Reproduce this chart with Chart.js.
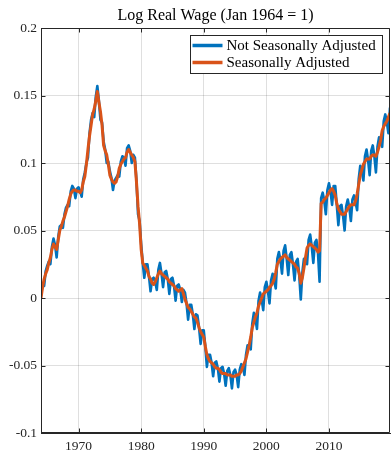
<!DOCTYPE html>
<html>
<head>
<meta charset="utf-8">
<script src="https://cdn.jsdelivr.net/npm/chart.js@4.4.1/dist/chart.umd.min.js"></script>
<style>
  html, body { margin: 0; padding: 0; background: #fff; }
  #wrap { width: 391px; height: 452px; position: relative; }
</style>
</head>
<body>
<div id="wrap"><canvas id="wageChart"></canvas></div>
<script>
// quarterly observations, first one is Jan 1964
var startYear = 1964;
var perYear = 4;

// not seasonally adjusted, one row per year (Q1..Q4)
var nsa = [
	0.002, 0.010, 0.009, 0.020,
	0.024, 0.027, 0.025, 0.038,
	0.044, 0.039, 0.030, 0.045,
	0.053, 0.054, 0.052, 0.062,
	0.067, 0.069, 0.068, 0.079,
	0.083, 0.081, 0.074, 0.081,
	0.082, 0.079, 0.075, 0.088,
	0.093, 0.100, 0.104, 0.122,
	0.132, 0.137, 0.134, 0.149,
	0.157, 0.146, 0.132, 0.130,
	0.116, 0.110, 0.100, 0.101,
	0.094, 0.089, 0.080, 0.087,
	0.089, 0.091, 0.090, 0.101,
	0.105, 0.104, 0.098, 0.111,
	0.113, 0.109, 0.100, 0.106,
	0.104, 0.087, 0.062, 0.057,
	0.040, 0.026, 0.015, 0.025,
	0.025, 0.016, 0.005, 0.014,
	0.015, 0.012, 0.006, 0.021,
	0.026, 0.018, 0.008, 0.019,
	0.020, 0.014, 0.003, 0.014,
	0.015, 0.009, -0.002, 0.009,
	0.010, 0.006, -0.003, 0.006,
	0.004, -0.004, -0.016, -0.005,
	-0.005, -0.012, -0.023, -0.012,
	-0.013, -0.022, -0.034, -0.024,
	-0.024, -0.036, -0.051, -0.042,
	-0.042, -0.048, -0.058, -0.048,
	-0.047, -0.052, -0.062, -0.052,
	-0.051, -0.056, -0.065, -0.054,
	-0.052, -0.057, -0.067, -0.055,
	-0.053, -0.057, -0.066, -0.053,
	-0.049, -0.051, -0.057, -0.042,
	-0.035, -0.035, -0.038, -0.019,
	-0.011, -0.015, -0.023, -0.002,
	0.004, -0.001, -0.009, 0.008,
	0.012, 0.005, -0.004, 0.013,
	0.018, 0.013, 0.007, 0.029,
	0.034, 0.028, 0.018, 0.035,
	0.039, 0.029, 0.017, 0.032,
	0.034, 0.025, 0.013, 0.027,
	0.029, 0.017, -0.001, 0.019,
	0.029, 0.029, 0.025, 0.043,
	0.047, 0.038, 0.026, 0.041,
	0.043, 0.033, 0.012, 0.074,
	0.078, 0.072, 0.062, 0.080,
	0.085, 0.079, 0.069, 0.083,
	0.083, 0.069, 0.054, 0.068,
	0.069, 0.061, 0.050, 0.068,
	0.073, 0.067, 0.057, 0.073,
	0.076, 0.071, 0.065, 0.088,
	0.098, 0.094, 0.087, 0.105,
	0.110, 0.102, 0.091, 0.109,
	0.113, 0.105, 0.093, 0.112,
	0.119, 0.116, 0.112, 0.131,
	0.136, 0.130, 0.122, 0.141
];

// seasonally adjusted
var sa = [
	0.000, 0.008, 0.014, 0.018,
	0.021, 0.026, 0.030, 0.036,
	0.040, 0.038, 0.036, 0.043,
	0.050, 0.053, 0.057, 0.060,
	0.064, 0.068, 0.073, 0.077,
	0.079, 0.080, 0.080, 0.079,
	0.079, 0.078, 0.080, 0.086,
	0.090, 0.099, 0.110, 0.120,
	0.128, 0.136, 0.140, 0.146,
	0.153, 0.145, 0.138, 0.128,
	0.113, 0.109, 0.106, 0.099,
	0.091, 0.088, 0.086, 0.085,
	0.086, 0.090, 0.096, 0.099,
	0.101, 0.103, 0.104, 0.108,
	0.110, 0.108, 0.106, 0.104,
	0.101, 0.086, 0.068, 0.055,
	0.036, 0.026, 0.024, 0.022,
	0.020, 0.016, 0.014, 0.011,
	0.010, 0.012, 0.015, 0.018,
	0.020, 0.018, 0.017, 0.016,
	0.015, 0.014, 0.012, 0.011,
	0.010, 0.009, 0.007, 0.006,
	0.005, 0.006, 0.007, 0.003,
	-0.001, -0.004, -0.007, -0.008,
	-0.010, -0.012, -0.014, -0.015,
	-0.018, -0.022, -0.025, -0.027,
	-0.029, -0.036, -0.042, -0.045,
	-0.047, -0.048, -0.049, -0.051,
	-0.052, -0.052, -0.053, -0.055,
	-0.056, -0.056, -0.056, -0.057,
	-0.057, -0.057, -0.058, -0.058,
	-0.058, -0.057, -0.057, -0.056,
	-0.054, -0.051, -0.048, -0.045,
	-0.040, -0.035, -0.029, -0.022,
	-0.018, -0.014, -0.011, -0.006,
	-0.003, 0.000, 0.003, 0.004,
	0.005, 0.006, 0.008, 0.009,
	0.011, 0.014, 0.019, 0.025,
	0.027, 0.029, 0.030, 0.031,
	0.032, 0.030, 0.029, 0.028,
	0.027, 0.026, 0.025, 0.023,
	0.022, 0.018, 0.011, 0.015,
	0.022, 0.030, 0.037, 0.039,
	0.040, 0.039, 0.038, 0.037,
	0.036, 0.034, 0.035, 0.070,
	0.071, 0.073, 0.074, 0.076,
	0.078, 0.080, 0.081, 0.079,
	0.076, 0.070, 0.066, 0.064,
	0.062, 0.062, 0.062, 0.064,
	0.066, 0.068, 0.069, 0.069,
	0.069, 0.072, 0.077, 0.084,
	0.091, 0.095, 0.099, 0.101,
	0.103, 0.103, 0.103, 0.105,
	0.106, 0.106, 0.105, 0.108,
	0.112, 0.117, 0.124, 0.127,
	0.129, 0.131, 0.134, 0.137
];

var seriesNames = ['Not Seasonally Adjusted', 'Seasonally Adjusted'];
var chartTitle = 'Log Real Wage (Jan 1964 = 1)';
var xTicks = [1970, 1980, 1990, 2000, 2010];
var yTicks = [-0.1, -0.05, 0, 0.05, 0.1, 0.15, 0.2];
var yTickLabels = ['-0.1', '-0.05', '0', '0.05', '0.1', '0.15', '0.2'];

var serif = "'Liberation Serif', 'Times New Roman', serif";
var axisColor = '#262626';
var gridColor = 'rgba(38,38,38,0.15)';

function toPoints(arr) {
	var pts = [];
	for (var i = 0; i < arr.length; i++)
		pts.push({ x: startYear + i / perYear, y: arr[i] });
	return pts;
}

var xMax = startYear + (sa.length - 1) / perYear;

// box round the axes plus inward tick marks, the way matlab draws them
var axesBox = {
	id: 'axesBox',
	afterDraw: function(chart) {
		var ctx = chart.ctx;
		var a = chart.chartArea;
		var sx = chart.scales.x, sy = chart.scales.y;
		var L = Math.round(a.left) + 0.5, R = Math.round(a.right) - 0.5;
		var T = Math.round(a.top) + 0.5, B = Math.round(a.bottom) - 0.5;
		ctx.save();
		ctx.strokeStyle = axisColor;
		ctx.lineWidth = 1;
		ctx.beginPath();
		ctx.rect(L, T, R - L, B - T);
		xTicks.forEach(function(v) {
			var px = Math.round(sx.getPixelForValue(v)) + 0.5;
			ctx.moveTo(px, B); ctx.lineTo(px, B - 4);
			ctx.moveTo(px, T); ctx.lineTo(px, T + 4);
		});
		yTicks.forEach(function(v) {
			var py = Math.round(sy.getPixelForValue(v)) + 0.5;
			ctx.moveTo(L, py); ctx.lineTo(L + 4, py);
			ctx.moveTo(R, py); ctx.lineTo(R - 4, py);
		});
		ctx.stroke();

		// title centred over the axes, not the whole canvas
		ctx.fillStyle = '#000';
		ctx.font = '16px ' + serif;
		ctx.textAlign = 'center';
		ctx.textBaseline = 'alphabetic';
		ctx.fillText(chartTitle, (a.left + a.right) / 2, a.top - 8);
		ctx.restore();
	}
};

// legend sits inside the axes, top right
var insideLegend = {
	id: 'insideLegend',
	afterDraw: function(chart) {
		var ctx = chart.ctx;
		var a = chart.chartArea;
		var bw = 192, bh = 38;
		var bx = Math.round(a.right) - 8 - bw + 0.5;
		var by = Math.round(a.top) + 7.5;
		ctx.save();
		ctx.fillStyle = '#fff';
		ctx.fillRect(bx, by, bw, bh);
		ctx.strokeStyle = axisColor;
		ctx.lineWidth = 1;
		ctx.strokeRect(bx, by, bw, bh);
		ctx.font = '15px ' + serif;
		ctx.textBaseline = 'middle';
		ctx.fillStyle = '#000';
		chart.data.datasets.forEach(function(ds, i) {
			var ly = by + 10 + i * 17;
			ctx.strokeStyle = ds.borderColor;
			ctx.lineWidth = 3.5;
			ctx.beginPath();
			ctx.moveTo(bx + 2, ly);
			ctx.lineTo(bx + 32, ly);
			ctx.stroke();
			ctx.fillText(ds.label, bx + 36, ly + 1);
		});
		ctx.restore();
	}
};

var ctx = document.getElementById('wageChart').getContext('2d');

var chart = new Chart(ctx, {
	type: 'line',
	data: {
		datasets: [{
			label: seriesNames[0],
			data: toPoints(nsa),
			borderColor: '#0072BD',
			borderWidth: 2.6,
			order: 2
		}, {
			label: seriesNames[1],
			data: toPoints(sa),
			borderColor: '#D95319',
			borderWidth: 3,
			order: 1
		}]
	},
	options: {
		responsive: true,
		maintainAspectRatio: false,
		animation: false,
		layout: { padding: { left: 0, right: 1, top: 28, bottom: 0 } },
		elements: {
			point: { radius: 0 },
			line: { tension: 0, borderJoinStyle: 'round' }
		},
		plugins: {
			legend: { display: false },
			tooltip: { enabled: false },
			title: { display: false }
		},
		scales: {
			x: {
				type: 'linear',
				min: startYear,
				max: xMax,
				afterBuildTicks: function(s) {
					s.ticks = xTicks.map(function(v) { return { value: v }; });
				},
				afterFit: function(s) { s.height = 19; },
				grid: { color: gridColor, drawTicks: false },
				border: { color: axisColor },
				ticks: {
					color: axisColor,
					font: { family: serif, size: 13.5 },
					padding: 5,
					maxRotation: 0,
					callback: function(v) { return String(v); }
				}
			},
			y: {
				min: -0.1,
				max: 0.2,
				afterBuildTicks: function(s) {
					s.ticks = yTicks.map(function(v) { return { value: v }; });
				},
				afterFit: function(s) { s.width = 41; },
				grid: { color: gridColor, drawTicks: false },
				border: { color: axisColor },
				ticks: {
					color: axisColor,
					font: { family: serif, size: 13.5 },
					padding: 4,
					callback: function(v, i) { return yTickLabels[i]; }
				}
			}
		}
	},
	plugins: [axesBox, insideLegend]
});
</script>
</body>
</html>
